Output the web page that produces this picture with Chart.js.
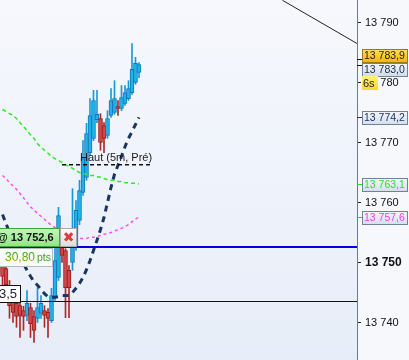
<!DOCTYPE html>
<html>
<head>
<meta charset="utf-8">
<script src="https://cdn.jsdelivr.net/npm/chart.js@4.4.1/dist/chart.umd.min.js"></script>
<style>
    html, body { margin: 0; padding: 0; background: #eef2fa; }
    #wrap { width: 409px; height: 360px; }
</style>
</head>
<body>
<div id="wrap"><canvas id="price-chart"></canvas></div>
<script>
Chart.defaults.font.family = "'Liberation Sans', Arial, sans-serif";

// OHLC, one candle per slot
const candleOpen = [13749.7, 13749.0, 13746.2, 13743.7, 13743.2, 13742.8, 13742.0, 13741.2, 13742.5, 13741.0,
                    13740.7, 13741.5, 13742.0, 13741.7, 13740.3, 13744.2, 13747.5, 13752.5, 13752.0, 13748.7,
                    13750.0, 13752.5, 13757.0, 13761.7, 13764.2, 13768.3, 13770.7, 13773.8, 13774.0, 13772.8,
                    13771.2, 13774.5, 13775.0, 13776.0, 13775.7, 13776.5, 13777.3, 13778.3, 13780.0, 13781.7]
const candleHigh = [13750.3, 13749.5, 13747.0, 13744.3, 13743.7, 13743.7, 13742.7, 13745.3, 13743.2, 13742.0,
                    13745.8, 13744.5, 13742.8, 13742.3, 13745.7, 13755.8, 13759.2, 13753.7, 13752.3, 13749.5,
                    13762.3, 13760.3, 13763.7, 13770.3, 13773.2, 13777.3, 13778.7, 13778.7, 13774.8, 13773.3,
                    13775.3, 13779.0, 13780.3, 13777.0, 13779.5, 13779.5, 13780.3, 13786.5, 13784.2, 13783.3]
const candleLow = [13745.3, 13743.7, 13740.7, 13740.0, 13739.2, 13737.5, 13738.7, 13740.3, 13737.5, 13736.7,
                   13740.0, 13740.7, 13739.2, 13737.5, 13740.0, 13743.7, 13747.0, 13750.0, 13740.8, 13740.8,
                   13748.7, 13752.0, 13756.3, 13761.2, 13763.7, 13767.8, 13770.3, 13773.3, 13768.7, 13768.3,
                   13770.7, 13774.2, 13774.7, 13774.5, 13775.3, 13776.2, 13777.0, 13778.0, 13779.7, 13780.8]
const candleClose = [13747.7, 13746.3, 13742.8, 13741.7, 13741.0, 13741.2, 13741.0, 13743.2, 13739.8, 13738.7,
                     13742.5, 13743.2, 13741.2, 13740.7, 13744.5, 13750.3, 13757.8, 13751.2, 13745.8, 13745.8,
                     13755.3, 13758.7, 13762.0, 13767.3, 13771.5, 13774.5, 13777.0, 13774.7, 13770.0, 13770.7,
                     13774.0, 13777.0, 13777.3, 13775.7, 13777.5, 13778.3, 13779.0, 13782.2, 13783.2, 13783.0]

// moving averages
const maGreen = [13775.5, 13775.2, 13774.8, 13774.5, 13774.0, 13773.3, 13772.7, 13772.0, 13771.3, 13770.7,
                 13769.8, 13769.2, 13768.7, 13768.2, 13767.7, 13767.3, 13767.0, 13766.7, 13766.3, 13766.0,
                 13765.7, 13765.3, 13765.0, 13764.8, 13764.7, 13764.5, 13764.5, 13764.3, 13764.2, 13764.0,
                 13763.8, 13763.7, 13763.7, 13763.5, 13763.5, 13763.3, 13763.3, 13763.2, 13763.2, 13763.1]
const maPink = [13764.5, 13764.0, 13763.3, 13762.8, 13762.2, 13761.5, 13760.8, 13760.0, 13759.3, 13758.7,
                13758.2, 13757.7, 13757.2, 13756.7, 13756.2, 13755.8, 13755.5, 13755.2, 13754.8, 13754.5,
                13754.3, 13754.2, 13754.0, 13754.0, 13754.0, 13754.2, 13754.2, 13754.3, 13754.5, 13754.7,
                13754.8, 13755.0, 13755.2, 13755.5, 13755.7, 13756.0, 13756.3, 13756.8, 13757.2, 13757.6]
const maNavy = [13758.0, 13756.5, 13755.0, 13753.5, 13752.2, 13751.0, 13749.8, 13748.7, 13747.7, 13746.8,
                13746.2, 13745.5, 13744.8, 13744.3, 13744.2, 13744.2, 13744.3, 13744.5, 13744.5, 13744.5,
                13745.0, 13745.7, 13746.5, 13747.5, 13748.8, 13750.3, 13752.0, 13753.7, 13755.5, 13757.5,
                13760.0, 13762.5, 13764.7, 13766.2, 13767.7, 13769.3, 13770.7, 13771.8, 13773.0, 13774.2]

const yTicks = [13740, 13750, 13760, 13770, 13780, 13790]
const tagValues = [13783.9, 13783.0, 13774.2, 13763.1, 13757.6]
const orderPrice = 13752.6
const orderPoints = "30,80"
const stopPrice = 13743.5
const hautLevel = 13766.3
const hautSlots = [17, 43]
const trendX = [80, 101.3]
const trendY = [13793.7, 13786.5]
const timerText = "6s"
const timerLevel = 13780

const xMin = -0.714
const xMax = 101.29
const yMin = 13733.75
const yMax = 13793.75

const slots = candleOpen.map((v, i) => i)
const isUp = slots.map(i => candleClose[i] >= candleOpen[i])

const tagStyles = [
    {top: '#ffe066', bottom: '#f2b300', border: '#9c7a1c', text: '#2a1e00', tick: '#111', shift: -4},
    {top: '#f3f7fc', bottom: '#cfdbea', border: '#6f8299', text: '#1c2b40', tick: '#111', shift: 4.5},
    {top: '#f3f7fc', bottom: '#d3deec', border: '#6f8299', text: '#1b3560', tick: '#1b3560', shift: 0},
    {top: '#f3f7fc', bottom: '#d3deec', border: '#6f8299', text: '#2fdc2f', tick: '#2fdc2f', shift: 0},
    {top: '#f3f7fc', bottom: '#d3deec', border: '#6f8299', text: '#f040e8', tick: '#f040e8', shift: 0},
]

function fmt(v, dec) {
    const s = v.toFixed(dec).replace('.', ',')
    return s.slice(0, 2) + ' ' + s.slice(2)
}

const background = {
    id: 'background',
    beforeDraw(chart) {
        const {ctx, width, height, chartArea} = chart
        ctx.save()
        const g = ctx.createLinearGradient(0, 0, 0, height)
        g.addColorStop(0, '#f6f8fd')
        g.addColorStop(1, '#e7edf8')
        ctx.fillStyle = g
        ctx.fillRect(0, 0, width, height)
        ctx.fillStyle = '#f6f8fc'
        ctx.fillRect(chartArea.right, 0, width - chartArea.right, height)
        ctx.restore()
    }
}

const overlays = {
    id: 'overlays',
    afterDraw(chart) {
        const {ctx, chartArea} = chart
        const y = chart.scales.y
        const right = chartArea.right
        ctx.save()
        ctx.textBaseline = 'middle'

        // "Haut (5m, Pré)" caption
        const hx = chart.scales.x.getPixelForValue(hautSlots[0])
        ctx.font = "11px 'Liberation Sans', Arial, sans-serif"
        ctx.fillStyle = '#1a1a1a'
        ctx.fillText('Haut (5m, Pré)', hx + 18, y.getPixelForValue(hautLevel) - 7)

        // price tags on the axis
        tagValues.forEach((v, k) => {
            const st = tagStyles[k]
            const py = Math.round(y.getPixelForValue(v)) + 0.5
            const cy = Math.round(py + st.shift)
            ctx.strokeStyle = st.tick
            ctx.lineWidth = 1
            ctx.beginPath()
            ctx.moveTo(right, py)
            ctx.lineTo(right + 5, py)
            ctx.stroke()
            const g = ctx.createLinearGradient(0, cy - 7, 0, cy + 7)
            g.addColorStop(0, st.top)
            g.addColorStop(1, st.bottom)
            ctx.fillStyle = g
            ctx.fillRect(right + 5, cy - 7, 46, 14)
            ctx.strokeStyle = st.border
            ctx.strokeRect(right + 5.5, cy - 6.5, 45, 13)
            ctx.fillStyle = st.text
            ctx.font = "10.5px 'Liberation Sans', Arial, sans-serif"
            ctx.fillText(fmt(v, 1), right + 7, cy + 0.5)
        })

        // candle timer
        const ty = Math.round(y.getPixelForValue(timerLevel)) + 1
        const tg = ctx.createLinearGradient(0, ty - 7, 0, ty + 7)
        tg.addColorStop(0, '#fff27a')
        tg.addColorStop(1, '#f7d92a')
        ctx.fillStyle = tg
        ctx.fillRect(right + 5, ty - 7, 16, 14)
        ctx.fillStyle = '#222'
        ctx.font = "11px 'Liberation Sans', Arial, sans-serif"
        ctx.fillText(timerText, right + 6, ty + 0.5)

        // order label with close button
        const ob = Math.round(y.getPixelForValue(orderPrice))
        const og = ctx.createLinearGradient(0, ob - 19, 0, ob)
        og.addColorStop(0, '#c2f7b8')
        og.addColorStop(1, '#8fe584')
        ctx.fillStyle = og
        ctx.fillRect(-2, ob - 19, 62, 19)
        ctx.strokeStyle = '#3aa83a'
        ctx.strokeRect(-1.5, ob - 18.5, 61, 18)
        ctx.fillStyle = '#111'
        ctx.font = "bold 11px 'Liberation Sans', Arial, sans-serif"
        ctx.fillText('@ ' + fmt(orderPrice, 1), -3, ob - 9)

        const xg = ctx.createLinearGradient(0, ob - 19, 0, ob)
        xg.addColorStop(0, '#fbfbfb')
        xg.addColorStop(1, '#dcdcdc')
        ctx.fillStyle = xg
        ctx.fillRect(60, ob - 19, 17, 19)
        ctx.strokeStyle = '#a9a9a9'
        ctx.strokeRect(60.5, ob - 18.5, 16, 18)
        ctx.fillStyle = '#e0393b'
        ctx.font = "bold 14px 'DejaVu Sans', sans-serif"
        ctx.textAlign = 'center'
        ctx.fillText('✖', 68.5, ob - 9)
        ctx.textAlign = 'left'

        // points box
        const pt = ob + 1
        ctx.fillStyle = '#f9fbf9'
        ctx.fillRect(-2, pt, 55, 19)
        ctx.strokeStyle = '#b4b9c0'
        ctx.strokeRect(-1.5, pt + 0.5, 54, 18)
        const pg = ctx.createLinearGradient(0, pt + 4, 0, pt + 15)
        pg.addColorStop(0, '#2fa81c')
        pg.addColorStop(1, '#a8a800')
        ctx.fillStyle = pg
        ctx.font = "12px 'Liberation Sans', Arial, sans-serif"
        ctx.fillText(orderPoints, 5, pt + 10)
        ctx.fillStyle = '#3e9e2a'
        ctx.font = "10.5px 'Liberation Sans', Arial, sans-serif"
        ctx.fillText('pts', 37, pt + 10)

        // stop level box (cut at the left edge)
        const sb = Math.round(y.getPixelForValue(stopPrice))
        ctx.fillStyle = '#ffffff'
        ctx.fillRect(-2, sb - 17, 22, 17)
        ctx.strokeStyle = '#111'
        ctx.strokeRect(-1.5, sb - 16.5, 22, 17)
        ctx.fillStyle = '#1a1a3a'
        ctx.font = "13px 'Liberation Sans', Arial, sans-serif"
        ctx.textAlign = 'right'
        ctx.fillText(fmt(stopPrice, 1), 17, sb - 8)
        ctx.restore()
    }
}

const lineSet = (values, color, width, dash) => ({
    type: 'line',
    data: values.map((v, i) => ({x: i, y: v})),
    borderColor: color,
    borderWidth: width,
    borderDash: dash,
    pointRadius: 0,
    tension: 0,
    order: 1
})

const levelSet = (x0, x1, value, color, width, dash) => ({
    type: 'line',
    data: [{x: x0, y: value}, {x: x1, y: value}],
    borderColor: color,
    borderWidth: width,
    borderDash: dash,
    pointRadius: 0,
    order: 1
})

const priceChart = new Chart(document.getElementById('price-chart'), {
    type: 'bar',
    data: {
        datasets: [
            levelSet(xMin, xMax, orderPrice, '#0000e6', 2, []),
            levelSet(xMin, xMax, stopPrice, '#111111', 1, []),
            levelSet(hautSlots[0], hautSlots[1], hautLevel, '#111111', 1.5, [4, 3]),
            {
                type: 'line',
                data: trendX.map((x, k) => ({x: x, y: trendY[k]})),
                borderColor: '#222',
                borderWidth: 1,
                pointRadius: 0,
                order: 1
            },
            lineSet(maNavy, '#1b3560', 3, [6, 5]),
            lineSet(maPink, '#ff4cf0', 1.5, [3, 3]),
            lineSet(maGreen, '#2ee82e', 1.5, [4, 3]),
            {
                data: slots.map(i => ({x: i, y: [candleOpen[i], candleClose[i]]})),
                backgroundColor: isUp.map(u => u ? '#20b1ea' : '#d44646'),
                borderColor: isUp.map(u => u ? '#1476b6' : '#941c1c'),
                borderWidth: 1,
                borderSkipped: false,
                barThickness: 4,
                grouped: false,
                order: 2
            },
            {
                data: slots.map(i => ({x: i, y: [candleLow[i], candleHigh[i]]})),
                backgroundColor: isUp.map(u => u ? '#1a98d6' : '#ae2828'),
                borderWidth: 0,
                barThickness: 1,
                grouped: false,
                order: 3
            }
        ]
    },
    options: {
        responsive: true,
        maintainAspectRatio: false,
        animation: false,
        layout: {
            padding: 0
        },
        scales: {
            x: {
                type: 'linear',
                offset: false,
                min: xMin,
                max: xMax,
                display: false
            },
            y: {
                position: 'right',
                min: yMin,
                max: yMax,
                afterBuildTicks: axis => {
                    axis.ticks = yTicks.map(v => ({value: v}))
                },
                afterFit: axis => {
                    axis.width = 52
                    axis.paddingTop = 0
                    axis.paddingBottom = 0
                },
                border: {
                    display: true,
                    color: '#6a7b8e'
                },
                grid: {
                    drawOnChartArea: false,
                    tickLength: 4,
                    color: '#222'
                },
                ticks: {
                    padding: 4,
                    color: '#111',
                    font: ctx => ctx.tick && ctx.tick.value === 13750
                        ? {size: 12, weight: 'bold'}
                        : {size: 11},
                    callback: v => fmt(v, 0)
                }
            }
        },
        plugins: {
            legend: {display: false},
            tooltip: {enabled: false}
        }
    },
    plugins: [background, overlays]
})
</script>
</body>
</html>
